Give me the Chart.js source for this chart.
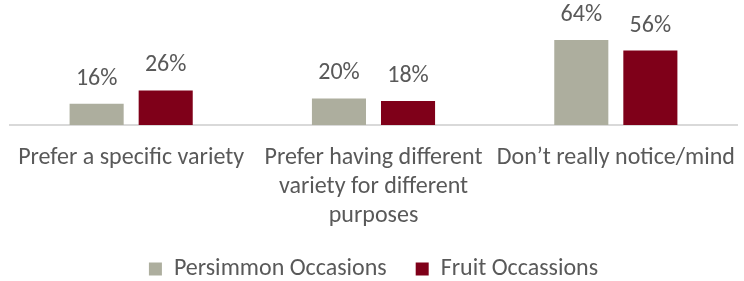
<!DOCTYPE html>
<html>
<head>
<meta charset="utf-8">
<script src="https://cdn.jsdelivr.net/npm/chart.js@4.4.1/dist/chart.umd.min.js"></script>
<style>
html,body{margin:0;padding:0;background:#fff;}
#wrap{width:744px;height:281px;}
</style>
</head>
<body>
<div id="wrap"><canvas id="c" width="744" height="281"></canvas></div>
<script>
const categories = [
  ['Prefer a specific variety'],
  ['Prefer having different', 'variety for different', 'purposes'],
  ['Don\u2019t really notice/mind']
];
const seriesNames = ['Persimmon Occasions', 'Fruit Occassions'];
const persimmonValues = [16, 20, 64];
const fruitValues = [26, 18, 56];

const FONT = 'Calibri, Carlito, Lato, sans-serif';
const TEXT = '#595959';

const dataLabels = {
  id: 'dataLabels',
  afterDatasetsDraw(chart) {
    const ctx = chart.ctx;
    ctx.save();
    ctx.font = '24px ' + FONT;
    ctx.fillStyle = TEXT;
    ctx.textAlign = 'center';
    ctx.textBaseline = 'middle';
    chart.data.datasets.forEach((ds, i) => {
      chart.getDatasetMeta(i).data.forEach((bar, j) => {
        ctx.fillText(ds.data[j] + '%', bar.x, bar.y - 25);
      });
    });
    ctx.restore();
  }
};

new Chart(document.getElementById('c'), {
  type: 'bar',
  data: {
    labels: categories,
    datasets: [
      { label: seriesNames[0], data: persimmonValues, backgroundColor: '#ADAE9E', borderWidth: 0 },
      { label: seriesNames[1], data: fruitValues, backgroundColor: '#7F0019', borderWidth: 0 }
    ]
  },
  options: {
    responsive: false,
    animation: false,
    categoryPercentage: 0.57,
    barPercentage: 0.783,
    layout: { padding: { left: 10, right: 7, top: 0, bottom: -10 } },
    scales: {
      y: { display: false, min: 0, max: 94 },
      x: {
        grid: { display: false, drawTicks: false },
        border: { display: true, color: '#D9D9D9', width: 2 },
        ticks: {
          color: TEXT,
          font: { family: FONT, size: 24, lineHeight: 1.22 },
          padding: 18,
          maxRotation: 0,
          autoSkip: false
        },
        afterFit(scale) {
          scale.height = 103;
          scale.paddingLeft = 0;
          scale.paddingRight = 0;
        }
      }
    },
    plugins: {
      legend: {
        position: 'bottom',
        labels: {
          color: TEXT,
          font: { family: FONT, size: 24 },
          boxWidth: 13,
          boxHeight: 13,
          padding: 29
        }
      },
      tooltip: { enabled: false }
    }
  },
  plugins: [dataLabels]
});
</script>
</body>
</html>
